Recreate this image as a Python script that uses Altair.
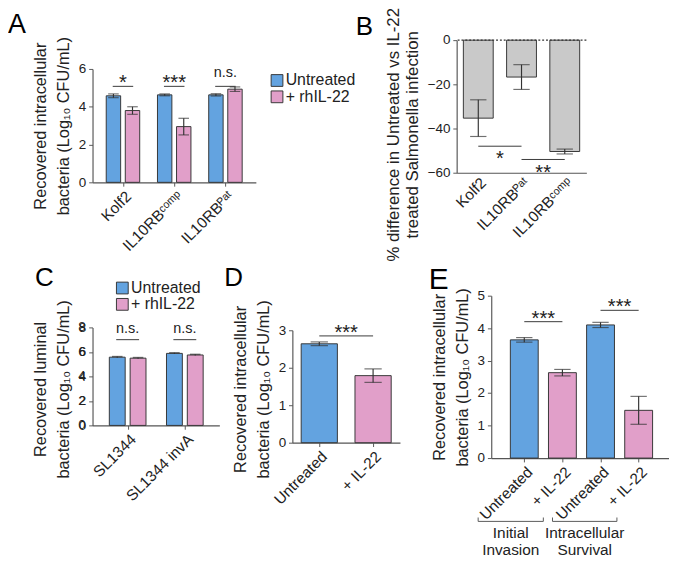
import altair as alt
import pandas as pd

FONT = "Liberation Sans"
BLUE = "#63a3e0"
PINK = "#e19fc9"
GREY = "#c9c9c9"
EDGE = "#333333"
AXIS = "#555555"
TEXT = "#222222"

treatments = ["Untreated", "+ rhIL-22"]
treat_colors = [BLUE, PINK]
log_title = ["Recovered intracellular", "bacteria (Log₁₀ CFU/mL)"]

# ---- Panel A ----
a_lines = ["Kolf2", "IL10RBᶜᵒᵐᵖ", "IL10RBᴾᵃᵗ"]
a_untreated = [4.58, 4.63, 4.63]
a_untreated_err = [0.10, 0.05, 0.06]
a_il22 = [3.80, 2.95, 4.93]
a_il22_err = [0.20, 0.44, 0.12]
a_sig = ["*", "***", "n.s."]
a_sig_level = [5.08, 5.08, 5.08]
a_ticks = [0, 2, 4, 6]

# ---- Panel B ----
b_lines = ["Kolf2", "IL10RBᴾᵃᵗ", "IL10RBᶜᵒᵐᵖ"]
b_diff = [-35.3, -16.7, -50.4]
b_err = [8.3, 5.6, 1.1]
b_sig_from = ["Kolf2", "IL10RBᴾᵃᵗ"]
b_sig_to = ["IL10RBᴾᵃᵗ", "IL10RBᶜᵒᵐᵖ"]
b_sig = ["*", "**"]
b_sig_level = [-48, -54]
b_ticks = [0, -20, -40, -60]
b_title = ["% difference in Untreated vs IL-22", "treated Salmonella infection"]

# ---- Panel C ----
c_strains = ["SL1344", "SL1344 invA"]
c_untreated = [5.57, 5.88]
c_untreated_err = [0.05, 0.05]
c_il22 = [5.49, 5.75]
c_il22_err = [0.05, 0.05]
c_sig = ["n.s.", "n.s."]
c_sig_level = [7.0, 7.0]
c_ticks = [0, 2, 4, 6, 8]
c_title = ["Recovered luminal", "bacteria (Log₁₀ CFU/mL)"]

# ---- Panel D ----
d_conditions = ["Untreated", "+ IL-22"]
d_values = [2.64, 1.79]
d_err = [0.05, 0.18]
d_sig = ["***"]
d_sig_level = [2.85]
d_ticks = [0, 1, 2, 3]

# ---- Panel E ----
e_labels = ["Untreated", "+ IL-22", "Untreated", "+ IL-22"]
e_values = [3.64, 2.63, 4.10, 1.47]
e_err = [0.07, 0.10, 0.08, 0.43]
e_sig_from = [0, 2]
e_sig_to = [1, 3]
e_sig = ["***", "***"]
e_sig_level = [4.2, 4.55]
e_ticks = [0, 1, 2, 3, 4, 5]
e_groups = ["Initial\nInvasion", "Intracellular\nSurvival"]
e_bracket_start = [-1.21, 0.74]
e_bracket_end = [0.5, 2.43]
e_bracket_level = -1.95
e_bracket_tick = -1.83
e_group_label_level = -2.07


def yaxis(values, title, **kw):
    opts = dict(values=values, title=title, grid=False, labelFontSize=14,
                titleFontSize=17, titleLineHeight=24, titleFontWeight="normal",
                tickSize=4, titlePadding=6, labelPadding=3, labelOverlap=False,
                labelSeparation=0, labelFlush=False, labelBound=False)
    opts.update(kw)
    return alt.Axis(**opts)


def xaxis(**kw):
    opts = dict(title=None, labelAngle=-45, labelFontSize=16, tickSize=4,
                grid=False, labelPadding=2, labelOverlap=False)
    opts.update(kw)
    return alt.Axis(**opts)


def cat_axis(names):
    expr = "[" + ",".join("'%s'" % n for n in names) + "][datum.value]"
    return xaxis(values=list(range(len(names))), labelExpr=expr, labelFlush=False,
                 labelAlign="right", labelBaseline="top")


def letter(t, x, y, size=27):
    return alt.Chart(pd.DataFrame({"t": [t]})).mark_text(
        fontSize=size, align="left", baseline="alphabetic", color="black").encode(
        text="t:N", x=alt.value(x), y=alt.value(y))


def tick_labels(values, ychan):
    return alt.Chart(pd.DataFrame({"v": values})).mark_text(
        align="right", baseline="middle", fontSize=14, dx=-7, color=TEXT).encode(
        x=alt.value(0), y=ychan("v:Q"), text="v:Q")


def manual_legend(x, y0, dy):
    layers = []
    for i, (t, c) in enumerate(zip(treatments, treat_colors)):
        d = pd.DataFrame({"t": [t]})
        layers.append(alt.Chart(d).mark_square(size=150, fill=c, stroke=EDGE, strokeWidth=1,
                                               opacity=1, filled=True).encode(
            x=alt.value(x), y=alt.value(y0 + i * dy)))
        layers.append(alt.Chart(d).mark_text(align="left", baseline="middle", fontSize=16.5,
                                             color=TEXT).encode(
            x=alt.value(x + 9), y=alt.value(y0 + i * dy), text="t:N"))
    return layers


def spacer(h):
    return alt.Chart(pd.DataFrame({"s": [0]})).mark_rect(opacity=0).encode(
        x=alt.value(0), x2=alt.value(1), y=alt.value(0), y2=alt.value(h)
    ).properties(width=1, height=h)


def cell(h, panel):
    return alt.vconcat(spacer(h), panel, spacing=0)


def grouped_frame(groups, untreated, untreated_err, il22, il22_err, offsets):
    rows = []
    for i, g in enumerate(groups):
        vals = [(untreated[i], untreated_err[i]), (il22[i], il22_err[i])]
        for j, (v, e) in enumerate(vals):
            rows.append(dict(group=g, pos=i + offsets[j], value=v, err=e, col=treat_colors[j]))
    df = pd.DataFrame(rows)
    df["lo"] = df["value"] - df["err"]
    df["hi"] = df["value"] + df["err"]
    return df


# ---------- A ----------
A_OFFSETS = [-0.186, 0.186]   # bar centres within a group, in group steps
dfA = grouped_frame(a_lines, a_untreated, a_untreated_err, a_il22, a_il22_err, A_OFFSETS)
sigA = pd.DataFrame(dict(pos=list(range(len(a_lines))), label=a_sig, level=a_sig_level))
sigA["p1"] = sigA["pos"] - 0.2
sigA["p2"] = sigA["pos"] + 0.2

axYA = yaxis(a_ticks, log_title)
scYA = alt.Scale(domain=[0, 6], nice=False)
axXA = cat_axis(a_lines)
scXA = alt.Scale(domain=[-0.5, 2.5], nice=False, zero=False)


def YA(f):
    return alt.Y(f, scale=scYA, axis=axYA)


def XA(f):
    return alt.X(f, scale=scXA, axis=axXA)


barsA = alt.Chart(dfA).mark_bar(size=15, stroke=EDGE, strokeWidth=1).encode(
    x=XA("pos:Q"), y=YA("value:Q"), fill=alt.Fill("col:N", scale=None))
errA = alt.Chart(dfA).mark_rule(color=EDGE, strokeWidth=1.2).encode(
    x=XA("pos:Q"), y=YA("lo:Q"), y2="hi:Q")
capLoA = alt.Chart(dfA).mark_tick(color=EDGE, size=11, thickness=1.2, orient="horizontal").encode(
    x=XA("pos:Q"), y=YA("lo:Q"))
capHiA = alt.Chart(dfA).mark_tick(color=EDGE, size=11, thickness=1.2, orient="horizontal").encode(
    x=XA("pos:Q"), y=YA("hi:Q"))
sigLineA = alt.Chart(sigA).mark_rule(color=EDGE, strokeWidth=1).encode(
    x=XA("p1:Q"), x2="p2:Q", y=YA("level:Q"))
sigStarA = alt.Chart(sigA).transform_filter("datum.label != 'n.s.'").mark_text(
    fontSize=21, dy=3, baseline="alphabetic", color=TEXT).encode(
    x=XA("pos:Q"), y=YA("level:Q"), text="label:N")
sigNsA = alt.Chart(sigA).transform_filter("datum.label == 'n.s.'").mark_text(
    fontSize=15, dy=-10, baseline="alphabetic", color=TEXT).encode(
    x=XA("pos:Q"), y=YA("level:Q"), text="label:N")

chartA = alt.layer(barsA, errA, capLoA, capHiA, sigLineA, sigStarA, sigNsA,
                   *manual_legend(192, 12, 17),
                   letter("A", -88, -37, 28), letter("B", 274, -35, 27)).properties(
    width=170, height=118)

# ---------- B ----------
dfB = pd.DataFrame(dict(line=b_lines, value=b_diff, err=b_err))
dfB["lo"] = dfB["value"] - dfB["err"]
dfB["hi"] = dfB["value"] + dfB["err"]
sigB = pd.DataFrame(dict(line=b_sig_from, dst=b_sig_to, label=b_sig, level=b_sig_level))
axYB = yaxis(b_ticks, b_title, titleLineHeight=20, titleY=98, titleFontSize=17.5)
scYB = alt.Scale(domain=[-60, 0], nice=False)
axXB = xaxis(ticks=False)
scXB = alt.Scale(domain=b_lines, paddingInner=0.31, paddingOuter=0.155)


def YB(f):
    return alt.Y(f, scale=scYB, axis=axYB)


def XB(f="line:N"):
    return alt.X(f, scale=scXB, axis=axXB)


barsB = alt.Chart(dfB).mark_bar(fill=GREY, stroke=EDGE, strokeWidth=1).encode(
    x=XB(), y=YB("value:Q"))
zeroB = alt.Chart(pd.DataFrame({"zero": [0]})).mark_rule(
    color=EDGE, strokeDash=[2, 2], strokeWidth=1.2).encode(y=YB("zero:Q"))
errB = alt.Chart(dfB).mark_rule(color=EDGE, strokeWidth=1.2).encode(
    x=XB(), y=YB("lo:Q"), y2="hi:Q")
capLoB = alt.Chart(dfB).mark_tick(color=EDGE, size=17, thickness=1.2).encode(
    x=XB(), y=YB("lo:Q"))
capHiB = alt.Chart(dfB).mark_tick(color=EDGE, size=17, thickness=1.2).encode(
    x=XB(), y=YB("hi:Q"))
sigLineB = alt.Chart(sigB).mark_rule(color=EDGE, strokeWidth=1).encode(
    x=XB(), x2="dst:N", y=YB("level:Q"))
sigTextB = alt.Chart(sigB).mark_text(fontSize=21, dx=22.5, dy=20, baseline="alphabetic", color=TEXT).encode(
    x=XB(), y=YB("level:Q"), text="label:N")

chartB = alt.layer(barsB, zeroB, errB, capLoB, capHiB, sigLineB, sigTextB).properties(
    width=135, height=138)

# ---------- C ----------
C_OFFSETS = [-0.182, 0.182]
dfC = grouped_frame(c_strains, c_untreated, c_untreated_err, c_il22, c_il22_err, C_OFFSETS)
sigC = pd.DataFrame(dict(pos=list(range(len(c_strains))), label=c_sig, level=c_sig_level))
sigC["p1"] = sigC["pos"] - 0.2
sigC["p2"] = sigC["pos"] + 0.2

axYC = yaxis(c_ticks, c_title, titleY=64)
scYC = alt.Scale(domain=[0, 8], nice=False)
axXC = cat_axis(c_strains)
scXC = alt.Scale(domain=[-0.53, 1.52], nice=False, zero=False)


def YC(f):
    return alt.Y(f, scale=scYC, axis=axYC)


def XC(f):
    return alt.X(f, scale=scXC, axis=axXC)


barsC = alt.Chart(dfC).mark_bar(size=16.5, stroke=EDGE, strokeWidth=1).encode(
    x=XC("pos:Q"), y=YC("value:Q"), fill=alt.Fill("col:N", scale=None))
errC = alt.Chart(dfC).mark_rule(color=EDGE, strokeWidth=1.2).encode(
    x=XC("pos:Q"), y=YC("lo:Q"), y2="hi:Q")
capC = alt.Chart(dfC).mark_tick(color=EDGE, size=11, thickness=1.5, orient="horizontal").encode(
    x=XC("pos:Q"), y=YC("hi:Q"))
sigLineC = alt.Chart(sigC).mark_rule(color=EDGE, strokeWidth=1).encode(
    x=XC("p1:Q"), x2="p2:Q", y=YC("level:Q"))
sigTextC = alt.Chart(sigC).mark_text(fontSize=15, dy=-7, baseline="alphabetic", color=TEXT).encode(
    x=XC("pos:Q"), y=YC("level:Q"), text="label:N")

chartC = alt.layer(barsC, errC, capC, sigLineC, sigTextC, tick_labels(c_ticks, YC),
                   *manual_legend(31, -41, 17),
                   letter("C", -60, -43, 27)).properties(width=132, height=102)

# ---------- D ----------
dfD = pd.DataFrame(dict(cond=d_conditions, value=d_values, err=d_err, col=[BLUE, PINK]))
dfD["lo"] = dfD["value"] - dfD["err"]
dfD["hi"] = dfD["value"] + dfD["err"]
sigD = pd.DataFrame(dict(cond=[d_conditions[0]], dst=[d_conditions[1]], label=d_sig, level=d_sig_level))
axYD = yaxis(d_ticks, log_title, titleY=61)
scYD = alt.Scale(domain=[0, 3], nice=False)
axXD = xaxis()
scXD = alt.Scale(domain=d_conditions, paddingInner=0.327, paddingOuter=0.1635)


def YD(f):
    return alt.Y(f, scale=scYD, axis=axYD)


def XD(f="cond:N"):
    return alt.X(f, scale=scXD, axis=axXD)


barsD = alt.Chart(dfD).mark_bar(stroke=EDGE, strokeWidth=1).encode(
    x=XD(), y=YD("value:Q"), fill=alt.Fill("col:N", scale=None))
errD = alt.Chart(dfD).mark_rule(color=EDGE, strokeWidth=1.2).encode(
    x=XD(), y=YD("lo:Q"), y2="hi:Q")
capLoD = alt.Chart(dfD).mark_tick(color=EDGE, size=18, thickness=1.2).encode(
    x=XD(), y=YD("lo:Q"))
capHiD = alt.Chart(dfD).mark_tick(color=EDGE, size=18, thickness=1.2).encode(
    x=XD(), y=YD("hi:Q"))
sigLineD = alt.Chart(sigD).mark_rule(color=EDGE, strokeWidth=1).encode(
    x=XD(), x2="dst:N", y=YD("level:Q"))
sigTextD = alt.Chart(sigD).mark_text(fontSize=21, dx=28, dy=3, baseline="alphabetic", color=TEXT).encode(
    x=XD(), y=YD("level:Q"), text="label:N")

chartD = alt.layer(barsD, errD, capLoD, capHiD, sigLineD, sigTextD, letter("D", -71, -46, 27)).properties(
    width=112, height=117)

# ---------- E ----------
dfE = pd.DataFrame(dict(idx=list(range(len(e_labels))), label=e_labels, value=e_values, err=e_err,
                        col=[BLUE, PINK, BLUE, PINK]))
dfE["lo"] = dfE["value"] - dfE["err"]
dfE["hi"] = dfE["value"] + dfE["err"]
sigE = pd.DataFrame(dict(src=e_sig_from, dst=e_sig_to, label=e_sig, level=e_sig_level))
sigE["mid"] = (sigE["src"] + sigE["dst"]) / 2
brE = pd.DataFrame(dict(group=e_groups, start=e_bracket_start, end=e_bracket_end))
brE["mid"] = (brE["start"] + brE["end"]) / 2
brE["level"] = e_bracket_level
brE["tick"] = e_bracket_tick
brE["lab"] = e_group_label_level

scXE = alt.Scale(domain=[-0.74, 3.67], nice=False, zero=False)
axXE = cat_axis(e_labels)
axYE = yaxis(e_ticks, log_title)
scYE = alt.Scale(domain=[0, 5], nice=False)


def YE(f):
    return alt.Y(f, scale=scYE, axis=axYE)


def XE(f):
    return alt.X(f, scale=scXE, axis=axXE)


barsE = alt.Chart(dfE).mark_bar(size=29, stroke=EDGE, strokeWidth=1).encode(
    x=XE("idx:Q"), y=YE("value:Q"), fill=alt.Fill("col:N", scale=None))
errE = alt.Chart(dfE).mark_rule(color=EDGE, strokeWidth=1.2).encode(
    x=XE("idx:Q"), y=YE("lo:Q"), y2="hi:Q")
capLoE = alt.Chart(dfE).mark_tick(color=EDGE, size=17, thickness=1.2, orient="horizontal").encode(
    x=XE("idx:Q"), y=YE("lo:Q"))
capHiE = alt.Chart(dfE).mark_tick(color=EDGE, size=17, thickness=1.2, orient="horizontal").encode(
    x=XE("idx:Q"), y=YE("hi:Q"))
sigLineE = alt.Chart(sigE).mark_rule(color=EDGE, strokeWidth=1).encode(
    x=XE("src:Q"), x2="dst:Q", y=YE("level:Q"))
sigTextE = alt.Chart(sigE).mark_text(fontSize=21, dy=3, baseline="alphabetic", color=TEXT).encode(
    x=XE("mid:Q"), y=YE("level:Q"), text="label:N")
brLine = alt.Chart(brE).mark_rule(color=AXIS, strokeWidth=1).encode(
    x=XE("start:Q"), x2="end:Q", y=YE("level:Q"))
brL = alt.Chart(brE).mark_rule(color=AXIS, strokeWidth=1).encode(
    x=XE("start:Q"), y=YE("level:Q"), y2="tick:Q")
brR = alt.Chart(brE).mark_rule(color=AXIS, strokeWidth=1).encode(
    x=XE("end:Q"), y=YE("level:Q"), y2="tick:Q")
brText = alt.Chart(brE).mark_text(fontSize=16, baseline="top", lineBreak="\n", lineHeight=18,
                                  color=TEXT).encode(
    x=XE("mid:Q"), y=YE("lab:Q"), text="group:N")

chartE = alt.layer(barsE, errE, capLoE, capHiE, sigLineE, sigTextE, brLine, brL, brR, brText,
                   letter("E", -65, -7, 31)).properties(width=185, height=169)

row1 = alt.hconcat(cell(9, chartA), cell(3, chartB), spacing=11)
row2 = alt.hconcat(
    cell(1, chartC),
    alt.hconcat(cell(1, chartD), cell(1, chartE), spacing=30),
    spacing=5)

chart = alt.vconcat(row1, row2, spacing=2).properties(
    padding={"left": 0, "top": -16, "right": 0, "bottom": 0}
).configure(font=FONT).configure_view(stroke=None).configure_axis(
    domainColor=AXIS, tickColor=AXIS, labelColor=TEXT, titleColor=TEXT,
    labelFont=FONT, titleFont=FONT, domainWidth=1.2, labelOverlap=False
).configure_axisY(labelOverlap=False)

chart.save("out.html", embed_options={"renderer": "svg", "actions": False})
